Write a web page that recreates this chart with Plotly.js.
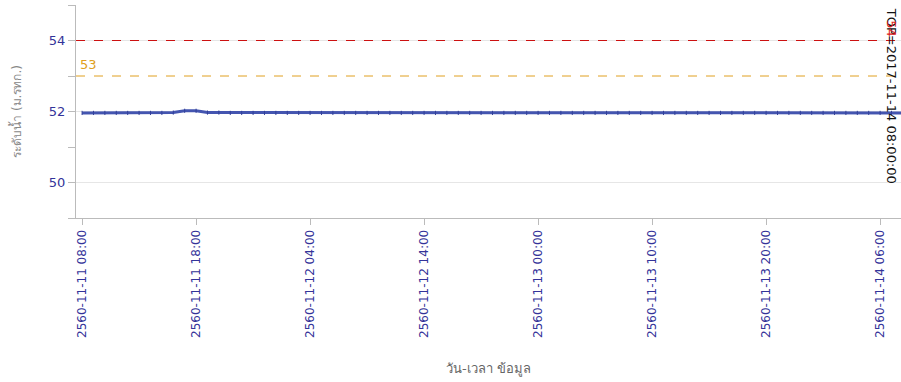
<!DOCTYPE html>
<html>
<head>
<meta charset="utf-8">
<script src="https://cdn.plot.ly/plotly-3.0.1.min.js"></script>
<style>html,body{margin:0;padding:0;background:#fff;}#chart{width:901px;height:382px;}</style>
</head>
<body>
<div id="chart"></div>
<script>
// hourly water level from 2017-11-11 08:00 (พ.ศ. 2560) to 2017-11-14 08:00
const startTime = "2017-11-11T08:00:00";
const levels = [
  51.96, 51.96, 51.96, 51.96, 51.96, 51.96, 51.96, 51.96, 51.97, 52.02,
  52.02, 51.97, 51.97, 51.96, 51.96, 51.96, 51.96, 51.96, 51.96, 51.96,
  51.96, 51.96, 51.96, 51.96, 51.96, 51.96, 51.96, 51.96, 51.96, 51.96,
  51.96, 51.96, 51.96, 51.96, 51.96, 51.96, 51.96, 51.96, 51.96, 51.96,
  51.96, 51.96, 51.96, 51.96, 51.96, 51.96, 51.96, 51.96, 51.96, 51.96,
  51.96, 51.96, 51.96, 51.96, 51.96, 51.96, 51.96, 51.96, 51.96, 51.96,
  51.96, 51.96, 51.96, 51.96, 51.96, 51.96, 51.96, 51.96, 51.96, 51.96,
  51.96, 51.96, 51.96
];
const warningLevel = 53;
const criticalLevel = 54;
const tickVals = ["2017-11-11 08:00","2017-11-11 18:00","2017-11-12 04:00","2017-11-12 14:00",
                  "2017-11-13 00:00","2017-11-13 10:00","2017-11-13 20:00","2017-11-14 06:00"];
const tickText = ["2560-11-11 08:00","2560-11-11 18:00","2560-11-12 04:00","2560-11-12 14:00",
                  "2560-11-13 00:00","2560-11-13 10:00","2560-11-13 20:00","2560-11-14 06:00"];
const xRange = ["2017-11-11 07:28", "2017-11-14 07:50"];
const topLabel = "TOP=2017-11-14 08:00:00";

function fmt(d){
  const p=n=>String(n).padStart(2,"0");
  return d.getFullYear()+"-"+p(d.getMonth()+1)+"-"+p(d.getDate())+" "+p(d.getHours())+":"+p(d.getMinutes());
}
const t0 = new Date(startTime);
const times = levels.map((_,i)=>fmt(new Date(t0.getTime()+i*3600000)));

const FONT = "Tahoma, 'DejaVu Sans', 'Noto Sans', sans-serif";
const traces = [
  {x:[xRange[0], times[times.length-1]], y:[criticalLevel, criticalLevel], mode:"lines",
   line:{color:"#cc1111", width:1, dash:"dash"}, hoverinfo:"skip"},
  {x:[xRange[0], times[times.length-1]], y:[warningLevel, warningLevel], mode:"lines",
   line:{color:"#e0a020", width:1, dash:"dash"}, hoverinfo:"skip"},
  {x:times, y:levels, mode:"lines+markers",
   line:{color:"#4455b0", width:3},
   marker:{symbol:"line-ns-open", size:3, color:"#33409a", line:{width:1, color:"#33409a"}}}
];

const layout = {
  width:901, height:382,
  margin:{l:76, r:0, t:5, b:164},
  paper_bgcolor:"#fff", plot_bgcolor:"#fff",
  showlegend:false,
  font:{family:FONT, size:12, color:"#333399"},
  xaxis:{
    type:"date", range:xRange,
    tickvals:tickVals, ticktext:tickText, tickangle:-90,
    ticks:"outside", ticklen:6, tickcolor:"#bbbbbb",
    showgrid:false, zeroline:false,
    showline:true, linecolor:"#bbbbbb", linewidth:1,
    tickfont:{family:FONT, size:12, color:"#333399"},
    title:{text:"วัน-เวลา ข้อมูล", font:{family:FONT, size:13, color:"#666666"}, standoff:26}
  },
  yaxis:{
    range:[49, 55], tick0:50, dtick:2,
    ticks:"outside", ticklen:7, tickcolor:"#bbbbbb",
    minor:{dtick:1, ticks:"outside", ticklen:7, tickcolor:"#bbbbbb", showgrid:false},
    showgrid:true, gridcolor:"#e6e6e6",
    zeroline:false, showline:true, linecolor:"#bbbbbb", linewidth:1,
    tickfont:{family:FONT, size:13, color:"#333399"},
    title:{text:"ระดับน้ำ (ม.รทก.)", font:{family:FONT, size:12, color:"#888888"}, standoff:24}
  },
  annotations:[
    {xref:"paper", yref:"y", x:0.003, y:warningLevel, xanchor:"left", yanchor:"bottom",
     text:String(warningLevel), showarrow:false, font:{family:FONT, size:13, color:"#e0a020"}, yshift:2},
    {xref:"paper", yref:"paper", x:0.988, y:0.573, xanchor:"center", yanchor:"middle", textangle:90,
     text:topLabel, showarrow:false, font:{family:FONT, size:13, color:"#111111"}},
    {xref:"paper", yref:"paper", x:0.988, y:0.89, xanchor:"center", yanchor:"middle", textangle:90,
     text:String(criticalLevel), showarrow:false, font:{family:FONT, size:13, color:"#dd2222"}}
  ]
};
Plotly.newPlot("chart", traces, layout, {displayModeBar:false, staticPlot:true});
</script>
</body>
</html>
